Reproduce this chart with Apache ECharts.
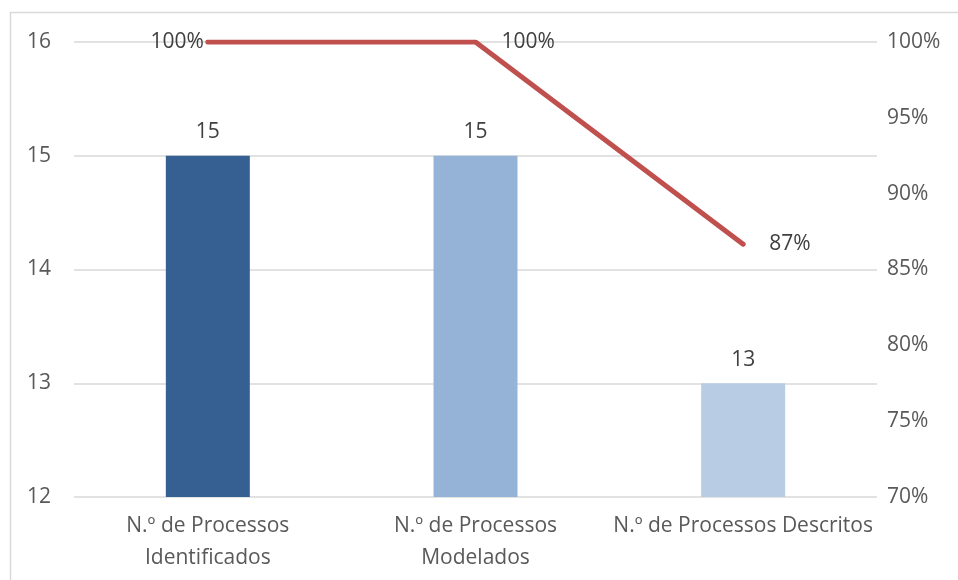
<!DOCTYPE html>
<html>
<head>
<meta charset="utf-8">
<script src="https://cdn.jsdelivr.net/npm/echarts@6/dist/echarts.min.js"></script>
<style>
  html, body { margin: 0; padding: 0; background: #fff; }
  #chart { width: 958px; height: 580px; }
</style>
</head>
<body>
<div id="chart"></div>
<script>
var categories = ['N.º de Processos\nIdentificados', 'N.º de Processos\nModelados', 'N.º de Processos Descritos'];
var counts = [15, 15, 13];
var percents = [100, 100, 86.67];
var barColors = ['#366092', '#95b3d7', '#b8cce4'];
var leftTicks = [12, 13, 14, 15, 16];

var chart = echarts.init(document.getElementById('chart'));
var font = '"Open Sans", "Noto Sans", sans-serif';

var option = {
  animation: false,
  textStyle: { fontFamily: font },
  graphic: [{
    type: 'rect',
    shape: { x: 10.5, y: 12.5, width: 980, height: 600 },
    style: { fill: 'none', stroke: '#d9d9d9', lineWidth: 1.5 },
    silent: true
  }],
  grid: { left: 74, right: 81, top: 42, bottom: 83, outerBoundsMode: 'none' },
  xAxis: {
    type: 'category',
    data: categories,
    axisLine: { show: false },
    axisTick: { show: false },
    axisLabel: {
      interval: 0,
      color: '#595959',
      fontSize: 21,
      fontFamily: font,
      lineHeight: 32,
      margin: 13
    }
  },
  yAxis: [{
    type: 'value',
    min: leftTicks[0],
    max: leftTicks[leftTicks.length - 1],
    interval: 1,
    axisLine: { show: false },
    axisTick: { show: false },
    splitLine: { lineStyle: { color: '#d9d9d9', width: 1.5 } },
    axisLabel: { color: '#595959', fontSize: 21, fontFamily: font, margin: 23 }
  }, {
    type: 'value',
    min: 70,
    max: 100,
    interval: 5,
    axisLine: { show: false },
    axisTick: { show: false },
    splitLine: { show: false },
    axisLabel: {
      color: '#595959', fontSize: 21, fontFamily: font, margin: 10,
      formatter: function (v) { return v + '%'; }
    }
  }],
  series: [{
    type: 'bar',
    yAxisIndex: 0,
    barWidth: 84,
    data: counts.map(function (v, i) {
      return { value: v, itemStyle: { color: barColors[i] } };
    }),
    label: {
      show: true,
      position: 'top',
      distance: 13,
      color: '#404040',
      fontSize: 21,
      fontFamily: font
    }
  }, {
    type: 'line',
    yAxisIndex: 1,
    z: 3,
    data: percents.map(function (v, i) {
      return {
        value: v,
        label: i === 0
          ? { show: true, position: 'left', distance: 2 }
          : { show: true, position: 'right', distance: 24 }
      };
    }),
    symbol: 'circle',
    symbolSize: 4,
    showSymbol: true,
    showAllSymbol: true,
    lineStyle: { color: '#c0504d', width: 5, cap: 'round', join: 'round' },
    itemStyle: { color: '#c0504d' },
    label: {
      show: true,
      color: '#404040',
      fontSize: 21,
      fontFamily: font,
      formatter: function (p) { return Math.round(p.value) + '%'; }
    }
  }]
};

chart.setOption(option);
</script>
</body>
</html>
